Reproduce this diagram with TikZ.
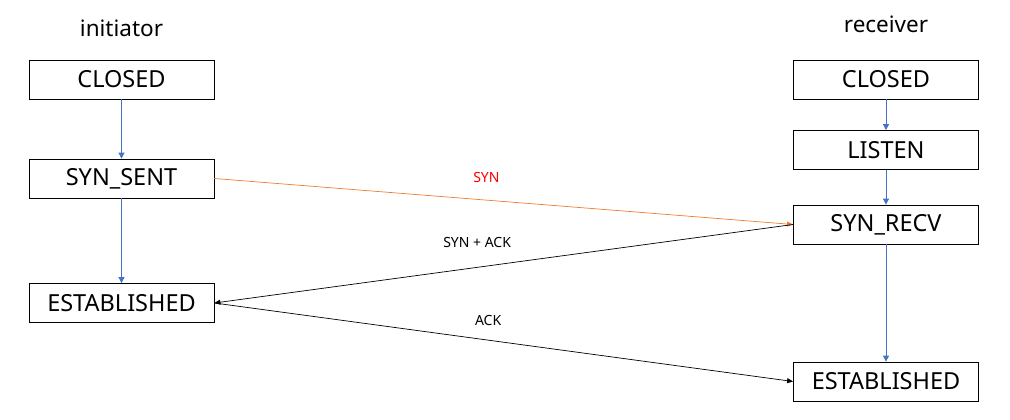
\documentclass[tikz,border=0pt]{standalone}
\usepackage{fontspec}
\setmainfont{Noto Sans}
\usetikzlibrary{arrows.meta}
\definecolor{flow}{HTML}{4472C4}
\definecolor{syn}{HTML}{ED7D31}
\begin{document}
\begin{tikzpicture}[x=1pt, y=-1pt,
  st/.style={draw, line width=0.8pt, minimum width=185pt, minimum height=39pt, inner sep=0pt, font=\fontsize{23.5}{26}\selectfont},
  who/.style={font=\fontsize{22.5}{26}\selectfont},
  lbl/.style={font=\fontsize{14}{16}\selectfont},
  down/.style={draw=flow, line width=0.8pt, -{Triangle[length=6pt,width=6pt]}},
  msg/.style={line width=0.7pt, -{Triangle[length=6pt,width=5pt]}}]
  \useasboundingbox (0,0) rectangle (1010,420);
  \node[who] (i) at (121.5,28) {initiator};
  \node[who] (r) at (886,24) {receiver};
  \node[st] (ic) at (121.5,79.5) {CLOSED};
  \node[st] (ss) at (121.5,178.5) {SYN\_SENT};
  \node[st] (ie) at (121.5,303) {ESTABLISHED};
  \node[st] (rc) at (886,79.5) {CLOSED};
  \node[st] (ls) at (886,150) {LISTEN};
  \node[st] (sr) at (886,224.5) {SYN\_RECV};
  \node[st] (re) at (886,381.5) {ESTABLISHED};
  \foreach \a/\b in {ic/ss,ss/ie,rc/ls,ls/sr,sr/re} \draw[down] (\a) -- (\b);
  \draw[msg, draw=syn] (ss.east) -- node[lbl, pos=.47, yshift=23pt, text=red] {SYN} (sr.west);
  \draw[msg] (sr.west) -- node[lbl, pos=.546, yshift=25pt] {SYN + ACK} (ie.east);
  \draw[msg] (ie.east) -- node[lbl, pos=.473, yshift=20pt] {ACK} (re.west);
\end{tikzpicture}
\end{document}
